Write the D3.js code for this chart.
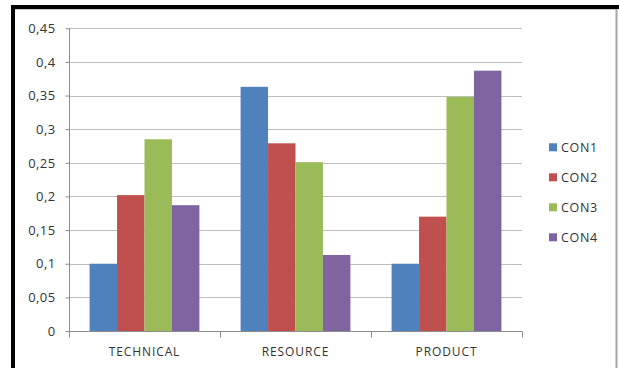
<!DOCTYPE html>
<html><head><meta charset="utf-8">
<script src="https://cdn.jsdelivr.net/npm/d3@7"></script>
<style>body{margin:0;background:#fff}svg{display:block}text{font-family:"Open Sans",sans-serif;fill:#333}</style>
</head><body><svg id="c" width="619" height="368"></svg>
<script>
const categories = ["TECHNICAL", "RESOURCE", "PRODUCT"];
const seriesNames = ["CON1", "CON2", "CON3", "CON4"];
const con1 = [0.100, 0.363, 0.100];
const con2 = [0.202, 0.279, 0.170];
const con3 = [0.285, 0.251, 0.348];
const con4 = [0.187, 0.113, 0.387];
const seriesValues = [con1, con2, con3, con4];
const colors = ["#4f81bd", "#c0504d", "#9bbb59", "#8064a2"];
const yTicks = [0, 0.05, 0.1, 0.15, 0.2, 0.25, 0.3, 0.35, 0.4, 0.45];
const yTickLabels = ["0", "0,05", "0,1", "0,15", "0,2", "0,25", "0,3", "0,35", "0,4", "0,45"];

const svg = d3.select("#c");
svg.append("rect").attr("width", 619).attr("height", 368).attr("fill", "#fff");

// frame
svg.append("line").attr("x1", 13).attr("x2", 13).attr("y1", 5).attr("y2", 368).attr("stroke", "#000").attr("stroke-width", 4);
svg.append("line").attr("x1", 11).attr("x2", 619).attr("y1", 7).attr("y2", 7).attr("stroke", "#000").attr("stroke-width", 4);
svg.append("line").attr("x1", 15).attr("x2", 616).attr("y1", 9.5).attr("y2", 9.5).attr("stroke", "#c8c8c8").attr("stroke-width", 1);
svg.append("line").attr("x1", 616.5).attr("x2", 616.5).attr("y1", 9).attr("y2", 368).attr("stroke", "#a6a6a6").attr("stroke-width", 2);

const x0 = d3.scaleBand().domain(categories).range([69, 522]).padding(0);
const x1 = d3.scaleBand().domain(seriesNames).range([0, x0.bandwidth()]).paddingInner(0).paddingOuter(0.75);
const y = d3.scaleLinear().domain([0, 0.45]).range([331, 28.3]);

// gridlines
svg.append("g").selectAll("line").data(yTicks.slice(1)).join("line")
  .attr("x1", 69).attr("x2", 522)
  .attr("y1", d => Math.round(y(d)) + 0.5).attr("y2", d => Math.round(y(d)) + 0.5)
  .attr("stroke", "#bfbfbf").attr("stroke-width", 1);

// bars
seriesNames.forEach((s, si) => {
  svg.append("g").selectAll("rect").data(categories).join("rect")
    .attr("x", c => x0(c) + x1(s))
    .attr("width", x1.bandwidth())
    .attr("y", (c, ci) => y(seriesValues[si][ci]))
    .attr("height", (c, ci) => y(0) - y(seriesValues[si][ci]))
    .attr("fill", colors[si]);
});

// y axis
const yAxis = d3.axisLeft(y).tickValues(yTicks).tickFormat((d, i) => yTickLabels[i]).tickSize(4).tickPadding(10);
const gy = svg.append("g").attr("transform", "translate(69.5,0)").call(yAxis);
gy.selectAll("line").attr("stroke", "#8c8c8c");
gy.select(".domain").attr("stroke", "#8c8c8c").attr("d", `M0,${y(0.45)}V${y(0)}`);
gy.selectAll("text").attr("font-size", 13).attr("fill", "#333").attr("letter-spacing", "0.4px").style("font-family", "Open Sans");

// x axis
const xAxis = d3.axisBottom(x0).tickSize(0).tickPadding(16);
const gx = svg.append("g").attr("transform", `translate(0,${y(0) + 0.5})`).call(xAxis);
gx.select(".domain").attr("stroke", "#8c8c8c").attr("d", "M69,0H522");
gx.selectAll("text").attr("font-size", 12).attr("fill", "#333").style("font-family", "Open Sans").attr("letter-spacing", "0.9px");
const bounds = [69, ...categories.map(c => x0(c) + x0.bandwidth())];
gx.append("g").selectAll("line").data(bounds).join("line")
  .attr("x1", d => Math.round(d) + 0.5).attr("x2", d => Math.round(d) + 0.5)
  .attr("y1", 0).attr("y2", 6).attr("stroke", "#8c8c8c");

// legend
const leg = svg.append("g");
seriesNames.forEach((s, i) => {
  const cy = 147.3 + i * 30;
  leg.append("rect").attr("x", 549).attr("y", cy - 4).attr("width", 8).attr("height", 8).attr("fill", colors[i]);
  leg.append("text").attr("x", 561).attr("y", cy).attr("dy", "0.35em").attr("font-size", 12.5).attr("letter-spacing", "0.7px").text(s);
});
</script></body></html>
